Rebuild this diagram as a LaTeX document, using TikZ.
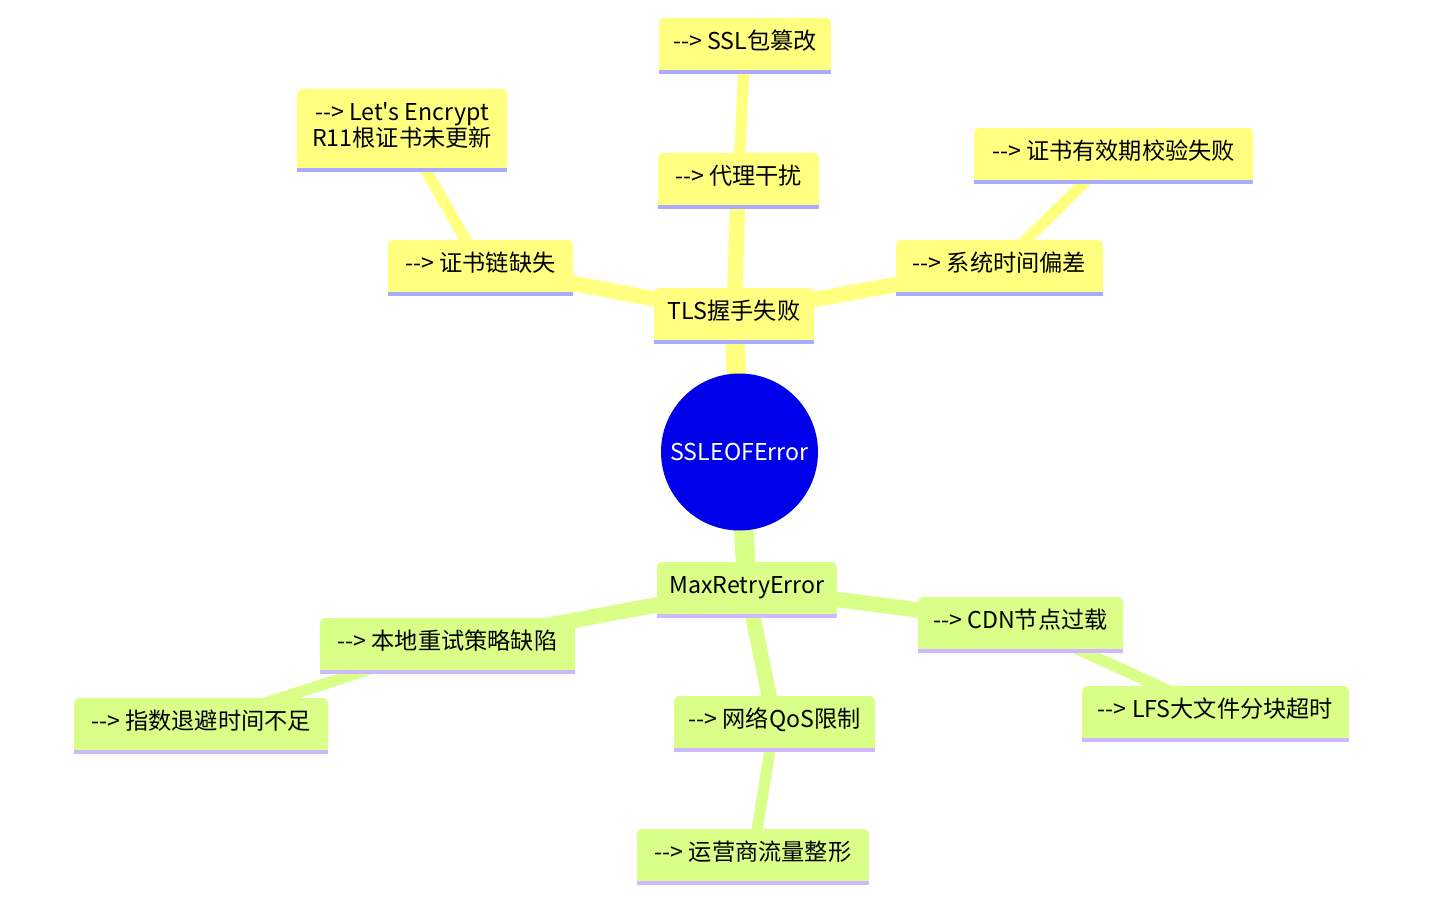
\documentclass[tikz,border=0pt]{standalone}
\usepackage{fontspec}
\newfontfamily\cjkfont{Noto Sans CJK SC}
\usepackage{tikz}
\usetikzlibrary{backgrounds}
\definecolor{rootblue}{HTML}{0000EB}
\definecolor{tlsfill}{HTML}{FFFF80}
\definecolor{tlsbar}{HTML}{AAAAFF}
\definecolor{retryfill}{HTML}{D9FF88}
\definecolor{retrybar}{HTML}{D0B8FF}
\newcommand{\mmfont}{\cjkfont\fontsize{23.2pt}{26pt}\selectfont}
% square lower corners and the coloured bar under a box
\newcommand{\boxfoot}[3]{%
  \fill[#2] ([yshift=6pt]#1.south west) rectangle (#1.south east);
  \fill[#3] (#1.south west) rectangle ([yshift=-4pt]#1.south east);}

\begin{document}
\begin{tikzpicture}[x=1pt,y=-1pt,
  box/.style={fill=#1,rounded corners=5pt,minimum height=52pt,inner xsep=8pt,inner ysep=0pt,text height=14pt,text depth=3pt,font=\mmfont,align=center},
  root/.style={circle,fill=rootblue,text=white,minimum size=157pt,inner sep=0pt,font=\mmfont},
  lvlA/.style={line width=19.6pt},lvlB/.style={line width=15.4pt},lvlC/.style={line width=11.2pt}]
\useasboundingbox (0,0) rectangle (1452,912);
\node[root] (ssl) at (739.5,452) {SSLEOFError};
% TLS branch
\node[box=tlsfill,minimum width=160pt] (tls) at (734,314) {TLS握手失败};
\node[box=tlsfill,minimum width=185pt] (chain) at (480.5,266) {--> 证书链缺失};
\node[box=tlsfill,minimum width=210pt,minimum height=79pt,text height=40pt] (letsenc) at (402,128.5) {--> Let's Encrypt\\R11根证书未更新};
\node[box=tlsfill,minimum width=161pt] (proxy) at (738.5,179) {--> 代理干扰};
\node[box=tlsfill,minimum width=172pt] (tamper) at (745,44) {--> SSL包篡改};
\node[box=tlsfill,minimum width=207pt] (clock) at (999.5,266) {--> 系统时间偏差};
\node[box=tlsfill,minimum width=279pt] (validity) at (1113.5,154) {--> 证书有效期校验失败};
% retry branch
\node[box=retryfill,minimum width=180pt] (retry) at (747,588) {MaxRetryError};
\node[box=retryfill,minimum width=255pt] (policy) at (447.5,644) {--> 本地重试策略缺陷};
\node[box=retryfill,minimum width=254pt] (backoff) at (201,724) {--> 指数退避时间不足};
\node[box=retryfill,minimum width=201pt] (qos) at (774.5,722) {--> 网络QoS限制};
\node[box=retryfill,minimum width=232pt] (shaping) at (753,855) {--> 运营商流量整形};
\node[box=retryfill,minimum width=205pt] (cdn) at (1020.5,623) {--> CDN节点过载};
\node[box=retryfill,minimum width=267pt] (lfs) at (1215.5,712) {--> LFS大文件分块超时};
\boxfoot{tls}{tlsfill}{tlsbar} \boxfoot{chain}{tlsfill}{tlsbar} \boxfoot{letsenc}{tlsfill}{tlsbar}
\boxfoot{proxy}{tlsfill}{tlsbar} \boxfoot{tamper}{tlsfill}{tlsbar} \boxfoot{clock}{tlsfill}{tlsbar}
\boxfoot{validity}{tlsfill}{tlsbar}
\boxfoot{retry}{retryfill}{retrybar} \boxfoot{policy}{retryfill}{retrybar} \boxfoot{backoff}{retryfill}{retrybar}
\boxfoot{qos}{retryfill}{retrybar} \boxfoot{shaping}{retryfill}{retrybar} \boxfoot{cdn}{retryfill}{retrybar}
\boxfoot{lfs}{retryfill}{retrybar}
\begin{pgfonlayer}{background}
\draw[lvlA,tlsfill] (ssl.center)--(tls.center);
\draw[lvlB,tlsfill] (tls.center)--(chain.center); \draw[lvlB,tlsfill] (tls.center)--(proxy.center);
\draw[lvlB,tlsfill] (tls.center)--(clock.center);
\draw[lvlC,tlsfill] (chain.center)--(letsenc.center); \draw[lvlC,tlsfill] (proxy.center)--(tamper.center);
\draw[lvlC,tlsfill] (clock.center)--(validity.center);
\draw[lvlA,retryfill] (ssl.center)--(retry.center);
\draw[lvlB,retryfill] (retry.center)--(policy.center); \draw[lvlB,retryfill] (retry.center)--(qos.center);
\draw[lvlB,retryfill] (retry.center)--(cdn.center);
\draw[lvlC,retryfill] (policy.center)--(backoff.center); \draw[lvlC,retryfill] (qos.center)--(shaping.center);
\draw[lvlC,retryfill] (cdn.center)--(lfs.center);
\end{pgfonlayer}
\end{tikzpicture}
\end{document}
